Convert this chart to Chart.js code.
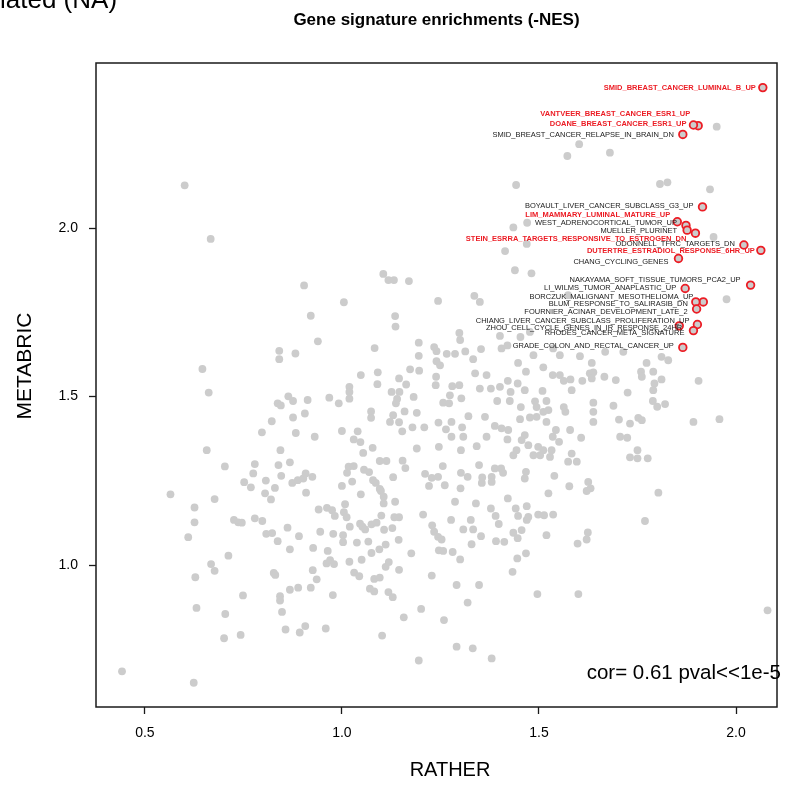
<!DOCTYPE html>
<html>
<head>
<meta charset="utf-8">
<script src="https://cdn.jsdelivr.net/npm/chart.js@4.4.1/dist/chart.umd.min.js"></script>
<style>
  html, body { margin: 0; padding: 0; background: #fff; }
  #wrap { width: 797px; height: 785px; }
</style>
</head>
<body>
<div id="wrap"><canvas id="chart" width="797" height="785"></canvas></div>
<script>
// gene set NES in the two cohorts (one value per gene set, same order)
const ratherNES = [
  0.601,0.667,0.904,1.005,0.921,1.105,1.118,1.132,1.170,1.244,
  1.135,1.136,0.939,1.083,1.195,1.234,1.240,1.195,0.841,0.841,
  0.882,1.298,1.300,1.266,1.287,1.313,1.240,1.249,1.173,1.196,
  1.048,1.091,1.145,1.090,1.163,1.239,1.238,1.280,1.298,1.019,
  1.019,1.126,1.146,1.182,1.274,1.303,0.968,1.019,1.140,0.646,
  0.662,1.137,0.864,0.876,0.837,0.845,0.913,0.992,0.876,0.906,
  0.822,0.797,0.883,0.931,1.000,1.040,1.030,1.047,1.074,1.074,
  1.130,1.122,1.145,1.153,1.159,1.190,1.179,1.209,1.245,1.078,
  1.054,1.190,1.246,0.844,0.657,0.703,0.779,0.775,0.839,0.846,
  0.868,0.752,0.769,0.807,0.830,0.805,0.820,0.874,0.888,0.902,
  0.908,0.925,0.909,1.017,1.030,1.013,1.056,1.069,1.079,1.086,
  1.026,1.000,1.096,1.099,1.096,1.113,1.154,1.161,1.130,1.211,
  1.228,1.244,1.221,1.048,1.008,1.106,1.106,1.135,0.941,0.962,
  0.975,0.982,1.005,1.012,1.100,1.133,1.145,1.206,1.046,1.052,
  1.059,1.075,1.088,1.020,1.107,1.128,1.229,1.234,1.244,0.945,
  0.978,1.003,1.003,1.038,1.067,1.095,1.111,1.144,1.075,1.176,
  1.246,0.964,0.927,1.019,1.050,0.961,0.970,0.980,0.926,0.936,
  0.921,0.868,0.889,0.977,1.031,1.044,1.082,1.096,1.111,1.119,
  1.145,1.228,1.071,1.082,1.118,1.129,1.157,1.201,1.102,0.959,
  0.857,0.893,0.907,0.843,0.843,0.848,1.195,0.749,0.704,0.701,
  0.743,0.631,0.628,0.668,0.677,0.712,0.827,0.831,0.610,0.626,
  0.626,0.677,0.565,0.442,0.624,0.726,0.737,0.746,0.779,0.798,
  0.808,0.823,0.837,0.862,0.891,0.868,
  1.333,1.353,1.405,1.447,1.486,1.536,1.553,1.604,1.634,1.668,
  1.714,1.773,1.811,1.828,1.338,1.367,1.350,1.378,1.401,1.421,
  1.446,1.467,1.464,1.511,1.509,1.535,1.553,1.563,1.580,1.583,
  1.610,1.629,1.638,1.634,1.666,1.695,1.725,1.759,1.761,1.790,
  1.793,1.811,1.790,1.905,1.257,1.272,1.321,1.363,1.394,1.428,
  1.426,1.454,1.452,1.477,1.490,1.494,1.494,1.511,1.519,1.524,
  1.519,1.563,1.567,1.638,1.638,1.638,1.689,1.703,1.731,1.752,
  1.761,1.789,1.800,1.820,1.892,1.958,1.264,1.278,1.278,1.305,
  1.308,1.302,1.342,1.367,1.388,1.405,1.422,1.420,1.456,1.464,
  1.473,1.435,1.443,1.486,1.498,1.503,1.511,1.532,1.528,1.535,
  1.543,1.551,1.579,1.583,1.574,1.596,1.607,1.706,1.724,1.731,
  1.750,1.750,1.776,1.256,1.261,1.302,1.319,1.301,1.348,1.356,
  1.355,1.380,1.380,1.388,1.404,1.409,1.467,1.464,1.539,1.577,
  1.625,1.631,1.621,1.524,1.803,1.287,1.340,1.277,1.327,1.308,
  1.333,1.378,1.390,1.398,1.421,1.441,1.447,1.469,1.469,1.473,
  1.456,1.498,1.513,1.536,1.769,1.253,1.257,1.281,1.300,1.329,
  1.353,1.391,1.412,1.435,1.446,1.445,1.467,1.519,1.598,1.621,
  1.624,1.433,1.291,1.348,1.319,1.259,1.496,1.600,2.080,1.291,
  1.332,1.380,
  1.951,1.602,1.572,1.680,1.442,1.470,1.435,1.469,1.414,1.439,
  1.481,1.336,1.350,1.401,1.420,1.453,1.477,1.807,1.826,1.934,
  1.943,1.574,1.976
];
const metabricNES = [
  2.127,1.968,1.830,1.780,1.740,1.864,1.846,1.846,1.843,1.784,
  1.739,1.708,1.664,1.644,1.660,1.647,1.635,1.621,1.636,1.611,
  1.628,1.689,1.668,1.627,1.627,1.634,1.605,1.593,1.581,1.577,
  1.564,1.572,1.554,1.537,1.536,1.559,1.534,1.531,1.534,1.529,
  1.514,1.514,1.514,1.499,1.504,1.495,1.497,1.494,1.493,1.582,
  1.512,1.480,1.501,1.487,1.480,1.474,1.490,1.480,1.438,1.450,
  1.427,1.394,1.392,1.381,1.398,1.397,1.373,1.365,1.456,1.437,
  1.445,1.425,1.424,1.397,1.456,1.452,1.409,1.409,1.423,1.348,
  1.333,1.346,1.351,1.341,1.341,1.293,1.300,1.272,1.297,1.265,
  1.305,1.246,1.231,1.251,1.229,1.213,1.195,1.244,1.252,1.257,
  1.272,1.262,1.215,1.292,1.294,1.274,1.283,1.276,1.252,1.244,
  1.248,1.235,1.226,1.220,1.309,1.309,1.310,1.288,1.261,1.271,
  1.259,1.262,1.235,1.210,1.181,1.203,1.183,1.188,1.165,1.170,
  1.163,1.146,1.157,1.142,1.147,1.142,1.142,1.150,1.123,1.114,
  1.106,1.121,1.126,1.114,1.105,1.110,1.118,1.099,1.084,1.099,
  1.093,1.089,1.068,1.067,1.070,1.047,1.061,1.075,1.036,1.035,
  1.044,1.042,1.051,1.010,1.016,1.005,1.015,1.003,0.985,0.958,
  0.933,0.927,0.933,0.911,0.978,0.967,0.959,0.963,0.995,1.009,
  0.986,0.969,0.930,0.922,0.920,0.905,0.845,0.870,0.791,0.812,
  0.809,0.800,0.819,0.908,0.895,0.861,0.717,0.910,0.855,0.783,
  0.793,0.873,0.964,1.003,0.983,1.028,0.977,0.971,1.083,1.171,
  1.127,1.196,1.210,0.685,0.651,1.134,1.127,1.126,1.139,1.131,
  1.093,1.095,1.071,1.111,1.086,1.047,
  1.611,1.641,1.643,1.600,1.623,1.643,1.623,1.620,1.600,1.633,
  1.633,1.600,1.618,1.608,1.569,1.564,1.524,1.524,1.529,1.547,
  1.539,1.574,1.519,1.587,1.517,1.564,1.564,1.547,1.551,1.519,
  1.547,1.569,1.572,1.554,1.559,1.549,1.512,1.574,1.559,1.574,
  1.539,1.551,1.519,1.547,1.482,1.480,1.442,1.440,1.487,1.514,
  1.487,1.469,1.433,1.438,1.486,1.469,1.440,1.455,1.487,1.460,
  1.425,1.469,1.455,1.482,1.455,1.425,1.473,1.432,1.420,1.437,
  1.430,1.487,1.470,1.478,1.425,1.433,1.403,1.425,1.381,1.409,
  1.381,1.341,1.353,1.381,1.413,1.406,1.401,1.373,1.371,1.386,
  1.356,1.326,1.341,1.326,1.351,1.326,1.341,1.341,1.321,1.381,
  1.401,1.366,1.401,1.331,1.307,1.307,1.378,1.381,1.378,1.320,
  1.317,1.341,1.317,1.294,1.237,1.274,1.262,1.228,1.297,1.260,
  1.244,1.262,1.247,1.287,1.287,1.274,1.277,1.257,1.265,1.234,
  1.247,1.228,1.220,1.213,1.215,1.188,1.183,1.134,1.134,1.106,
  1.106,1.168,1.146,1.122,1.198,1.168,1.146,1.175,1.134,1.143,
  1.104,1.150,1.148,1.150,1.131,1.076,1.042,1.039,1.017,1.062,
  1.086,1.071,1.069,1.096,1.080,1.020,1.035,1.089,1.064,1.076,
  1.097,0.980,0.941,0.941,0.889,0.837,0.914,0.914,0.866,0.758,
  0.753,0.723,
  2.301,2.249,2.214,2.224,2.128,2.016,2.002,1.953,1.932,1.875,
  1.866,1.799,1.781,1.680,1.652,1.677,1.692,2.131,2.136,2.115,
  1.974,1.801,1.789
];

// labelled signatures
const sigNames = [
  'SMID_BREAST_CANCER_LUMINAL_B_UP',
  'VANTVEER_BREAST_CANCER_ESR1_UP',
  'DOANE_BREAST_CANCER_ESR1_UP',
  'SMID_BREAST_CANCER_RELAPSE_IN_BRAIN_DN',
  'BOYAULT_LIVER_CANCER_SUBCLASS_G3_UP',
  'LIM_MAMMARY_LUMINAL_MATURE_UP',
  'WEST_ADRENOCORTICAL_TUMOR_UP',
  'MUELLER_PLURINET',
  'STEIN_ESRRA_TARGETS_RESPONSIVE_TO_ESTROGEN_DN',
  'ODONNELL_TFRC_TARGETS_DN',
  'DUTERTRE_ESTRADIOL_RESPONSE_6HR_UP',
  'CHANG_CYCLING_GENES',
  'NAKAYAMA_SOFT_TISSUE_TUMORS_PCA2_UP',
  'LI_WILMS_TUMOR_ANAPLASTIC_UP',
  'BORCZUK_MALIGNANT_MESOTHELIOMA_UP',
  'BLUM_RESPONSE_TO_SALIRASIB_DN',
  'FOURNIER_ACINAR_DEVELOPMENT_LATE_2',
  'CHIANG_LIVER_CANCER_SUBCLASS_PROLIFERATION_UP',
  'ZHOU_CELL_CYCLE_GENES_IN_IR_RESPONSE_24HR',
  'RHODES_CANCER_META_SIGNATURE',
  'GRADE_COLON_AND_RECTAL_CANCER_UP'
];
const sigRather = [2.068,1.904,1.892,1.865,1.915,1.851,1.873,1.876,1.897,2.020,2.063,
                   1.854,2.037,1.871,1.917,1.898,1.900,1.902,1.856,1.892,1.865];
const sigMetabric = [2.417,2.304,2.306,2.278,2.063,2.019,2.008,1.994,1.985,1.950,1.934,
                     1.910,1.831,1.821,1.781,1.781,1.760,1.714,1.710,1.696,1.646];
const sigEstrogen = [true,true,true,false,false,true,false,false,true,false,true,
                     false,false,false,false,false,false,false,false,false,false];

const xTicks = [0.5, 1.0, 1.5, 2.0];
const yTicks = [1.0, 1.5, 2.0];

// label nudges in pixels (text drawn to the left of its point)
const labelNudge = [[-7,0],[-8,-12],[-7,-1],[-9,0],[-9,-1],[-7,-7],[-9,-2],[-10,1],[-9,6],[-9,-1],[-6,1],
                    [-10,3],[-10,-5],[-9,-1],[-10,-5],[-8,2],[-9,3],[-8,-4],[3,2],[-9,2],[-9,-1]];

const FONT = '"Liberation Sans", Arial, Helvetica, sans-serif';
const RED = 'rgb(236,28,36)';
const GREY = 'rgb(204,204,204)';

Chart.defaults.font.family = FONT;
Chart.defaults.color = '#000';

const labelPlugin = {
  id: 'sigLabels',
  afterDatasetsDraw(chart) {
    const ctx = chart.ctx;
    const meta = chart.getDatasetMeta(1);
    ctx.save();
    ctx.textAlign = 'right';
    ctx.textBaseline = 'middle';
    meta.data.forEach((pt, i) => {
      ctx.font = (sigEstrogen[i] ? 'bold ' : '') + '7.5px ' + FONT;
      ctx.fillStyle = sigEstrogen[i] ? RED : '#1a1a1a';
      ctx.fillText(sigNames[i], pt.x + labelNudge[i][0], pt.y + labelNudge[i][1]);
    });
    ctx.restore();
  }
};

const framePlugin = {
  id: 'frame',
  afterDraw(chart) {
    const {ctx, chartArea: a} = chart;
    ctx.save();
    ctx.strokeStyle = '#1a1a1a';
    ctx.lineWidth = 1.5;
    ctx.strokeRect(a.left, a.top, a.right - a.left, a.bottom - a.top);

    ctx.fillStyle = '#000';
    ctx.textAlign = 'center';
    ctx.textBaseline = 'middle';
    ctx.font = '20px ' + FONT;
    ctx.fillText('RATHER', 450, 770);
    ctx.save();
    ctx.translate(25, 366);
    ctx.rotate(-Math.PI / 2);
    ctx.font = '21px ' + FONT;
    ctx.fillText('METABRIC', 0, 0);
    ctx.restore();

    ctx.font = '20.5px ' + FONT;
    ctx.textAlign = 'right';
    ctx.fillText('cor= 0.61 pval<<1e-5', 781, 673);

    // caption of the neighbouring panel, cut by the top edge
    ctx.font = '26px ' + FONT;
    ctx.textAlign = 'left';
    ctx.textBaseline = 'alphabetic';
    ctx.fillText('lated (NA)', 0, 8);
    ctx.restore();
  }
};

new Chart(document.getElementById('chart'), {
  type: 'scatter',
  data: {
    datasets: [
      {
        label: 'gene sets',
        data: ratherNES.map((x, i) => ({x: x, y: metabricNES[i]})),
        pointRadius: 3.9,
        pointBorderWidth: 0,
        pointBackgroundColor: GREY,
        pointBorderColor: GREY
      },
      {
        label: 'labelled',
        data: sigRather.map((x, i) => ({x: x, y: sigMetabric[i]})),
        pointRadius: 3.8,
        pointBorderWidth: 1.8,
        pointBackgroundColor: GREY,
        pointBorderColor: RED
      }
    ]
  },
  options: {
    responsive: false,
    animation: false,
    devicePixelRatio: 1,
    layout: {padding: {left: 0, right: 20, top: 0, bottom: 0}},
    plugins: {
      legend: {display: false},
      tooltip: {enabled: false},
      title: {
        display: true,
        fullSize: false,
        text: 'Gene signature enrichments (-NES)',
        font: {size: 17, weight: 'bold'},
        color: '#000',
        padding: {top: 10, bottom: 32.6}
      }
    },
    scales: {
      x: {
        type: 'linear',
        min: 0.376,
        max: 2.104,
        afterBuildTicks: s => { s.ticks = xTicks.map(v => ({value: v})); },
        afterFit: s => { s.height = 78; },
        ticks: {callback: v => v.toFixed(1), font: {size: 14}, color: '#000', padding: 10.5, maxRotation: 0},
        grid: {drawOnChartArea: false, drawTicks: true, tickLength: 7, tickColor: '#1a1a1a', tickWidth: 1.3},
        border: {display: false}
      },
      y: {
        type: 'linear',
        min: 0.579,
        max: 2.49,
        afterBuildTicks: s => { s.ticks = yTicks.map(v => ({value: v})); },
        afterFit: s => { s.width = 96; },
        ticks: {callback: v => v.toFixed(1), font: {size: 14}, color: '#000', padding: 11},
        grid: {drawOnChartArea: false, drawTicks: true, tickLength: 7, tickColor: '#1a1a1a', tickWidth: 1.3},
        border: {display: false}
      }
    }
  },
  plugins: [labelPlugin, framePlugin]
});
</script>
</body>
</html>
